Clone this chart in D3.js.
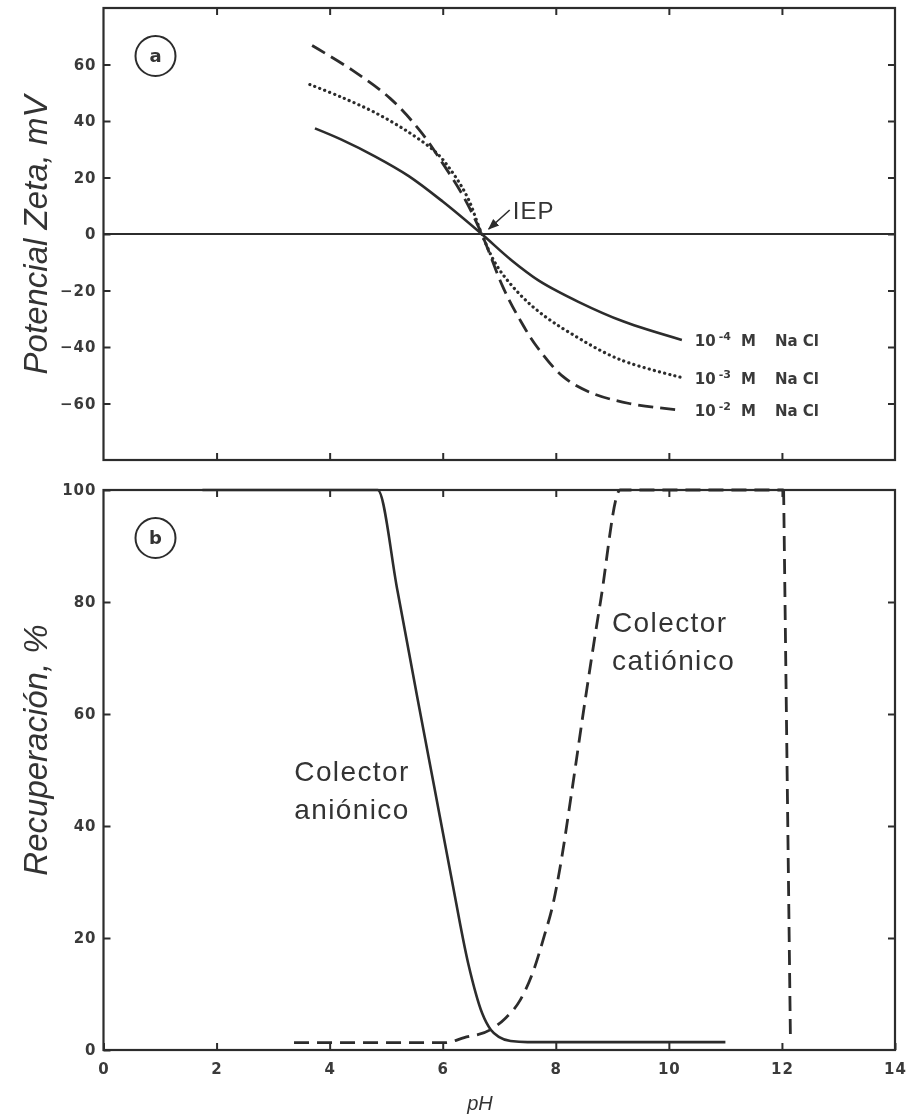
<!DOCTYPE html>
<html>
<head>
<meta charset="utf-8">
<script src="https://cdn.jsdelivr.net/npm/d3@7"></script>
<style>
  html, body { margin: 0; padding: 0; background: #fff; }
  svg { display: block; font-family: "Liberation Sans", Arial, Helvetica, sans-serif; }
</style>
</head>
<body>
<svg id="chart" width="908" height="1116"></svg>
<script>
// pH values shared by both panels' x axis
const xTicks = [0, 2, 4, 6, 8, 10, 12, 14];
const zetaTicks = [-60, -40, -20, 0, 20, 40, 60];
const recTicks = [0, 20, 40, 60, 80, 100];

// Panel (a): zeta potential (mV) vs pH at three NaCl concentrations
const zeta1e4 = [[3.74, 37.4], [4.2, 33.5], [4.8, 27.5], [5.4, 20.5], [6.0, 11.5], [6.69, 0],
                 [7.2, -9], [7.7, -16.5], [8.4, -24], [9.2, -31], [10.23, -37.5]];
const zeta1e3 = [[3.65, 52.9], [4.2, 48.5], [4.8, 43], [5.4, 36], [5.9, 28.5], [6.2, 21],
                 [6.45, 12.5], [6.69, 0], [6.95, -11], [7.3, -20], [7.7, -27.5], [8.25, -35],
                 [9.14, -44.5], [10.23, -50.8]];
const zeta1e2 = [[3.69, 66.7], [4.4, 58], [5.07, 48], [5.6, 36.5], [6.0, 25], [6.36, 13.5],
                 [6.69, 0], [7.07, -19], [7.37, -30.5], [7.67, -40], [8.13, -50.5], [8.6, -56],
                 [9.3, -60], [10.23, -62.4]];
const exponents = ["-4", "-3", "-2"];
const iep = [6.69, 0];

// Panel (b): flotation recovery (%) vs pH
const anionic = [[1.75, 100], [4.85, 100], [5.2, 82], [5.55, 63], [5.85, 47], [6.15, 31],
                 [6.45, 15.5], [6.7, 6.5], [6.85, 3.6], [7.0, 2.3], [7.2, 1.6], [7.5, 1.4], [11.0, 1.4]];
const cationic = [[3.37, 1.3], [6.03, 1.3], [6.38, 2.2], [6.84, 3.6], [7.1, 5.6], [7.37, 8.9],
                  [7.6, 14], [7.8, 20.5], [7.95, 26], [8.1, 34], [8.26, 44.6], [8.52, 62.5],
                  [8.79, 80], [9.14, 100], [12.03, 100]];
const cationicDrop = [[12.03, 100], [12.15, 2.3]];

const ink = "#2c2c2c";
const svg = d3.select("#chart");
const root = svg.append("g").style("filter", "blur(0.35px)");

const x = d3.scaleLinear().domain([0, 14]).range([103.5, 895]);
const ya = d3.scaleLinear().domain([-80, 80]).range([460, 8]);
const yb = d3.scaleLinear().domain([0, 100]).range([1050, 490]);

function frame(y) {
  const [y0, y1] = y.range();
  root.append("rect")
    .attr("x", x.range()[0]).attr("y", y1)
    .attr("width", x.range()[1] - x.range()[0]).attr("height", y0 - y1)
    .attr("fill", "none").attr("stroke", ink).attr("stroke-width", 2.2);
}

function styleAxis(g, labels) {
  g.select(".domain").remove();
  g.selectAll(".tick line").attr("stroke", ink).attr("stroke-width", 2);
  g.selectAll(".tick text")
    .attr("fill", "#3a3a3a").style("font-size", "15px").style("font-weight", "bold")
    .style("letter-spacing", "1px")
    .style("font-family", "'DejaVu Sans', Verdana, sans-serif");
  if (!labels) g.selectAll(".tick text").remove();
}

function axes(y, yTicks, xLabels) {
  const [y0, y1] = y.range();
  root.append("g").attr("transform", `translate(${x.range()[0]},0)`)
    .call(d3.axisLeft(y).tickValues(yTicks).tickSize(-7).tickPadding(7).tickFormat(d3.format("d")))
    .call(g => styleAxis(g, true));
  root.append("g").attr("transform", `translate(${x.range()[1]},0)`)
    .call(d3.axisRight(y).tickValues(yTicks.filter(v => v > y.domain()[0] && v < y.domain()[1])).tickSize(-7))
    .call(g => styleAxis(g, false));
  const inside = xTicks.filter(v => v > 0 && v < 14);
  root.append("g").attr("transform", `translate(0,${y1})`)
    .call(d3.axisTop(x).tickValues(inside).tickSize(-7))
    .call(g => styleAxis(g, false));
  root.append("g").attr("transform", `translate(0,${y0})`)
    .call(d3.axisBottom(x).tickValues(xLabels ? xTicks : inside).tickSize(-7).tickPadding(13))
    .call(g => styleAxis(g, xLabels));
}

function curve(y, data, dash, width, cap, shape) {
  root.append("path")
    .datum(data)
    .attr("d", d3.line().x(d => x(d[0])).y(d => y(d[1])).curve(shape || d3.curveCatmullRom.alpha(0.5)))
    .attr("fill", "none").attr("stroke", ink)
    .attr("stroke-width", width)
    .attr("stroke-dasharray", dash)
    .attr("stroke-linecap", cap || "butt");
}

function panelTag(y, letter) {
  const cx = x.range()[0] + 52, cy = y.range()[1] + 48;
  root.append("circle").attr("cx", cx).attr("cy", cy).attr("r", 20)
    .attr("fill", "none").attr("stroke", ink).attr("stroke-width", 2);
  root.append("text").attr("x", cx).attr("y", cy + 6).attr("text-anchor", "middle")
    .attr("fill", "#333").style("font-size", "18px").style("font-weight", "bold")
    .style("font-family", "'DejaVu Sans', sans-serif").text(letter);
}

// ---------- Panel (a) ----------
frame(ya);
axes(ya, zetaTicks, false);
root.append("line")
  .attr("x1", x(0)).attr("x2", x(14)).attr("y1", ya(0)).attr("y2", ya(0))
  .attr("stroke", ink).attr("stroke-width", 2);

curve(ya, zeta1e4, null, 2.6);
curve(ya, zeta1e3, "0.1,5.2", 3.2, "round");
curve(ya, zeta1e2, "15,7", 2.8);

// concentration labels at the right end of each curve
[zeta1e4, zeta1e3, zeta1e2].forEach((s, i) => {
  const last = s[s.length - 1];
  const t = root.append("text")
    .attr("x", x(last[0]) + 13).attr("y", ya(last[1]) + 6)
    .attr("fill", "#3a3a3a").style("font-size", "15px").style("font-weight", "bold")
    .style("font-family", "'DejaVu Sans', sans-serif");
  t.append("tspan").text("10");
  t.append("tspan").attr("dy", -6).attr("dx", 3).style("font-size", "11px").text(exponents[i]);
  t.append("tspan").attr("dy", 6).attr("dx", 10).text("M");
  t.append("tspan").attr("dx", 19).text("Na Cl");
});

// isoelectric point marker
const ix = x(iep[0]), iy = ya(iep[1]);
root.append("defs").append("marker")
  .attr("id", "arrow").attr("viewBox", "0 0 10 10").attr("refX", 9).attr("refY", 5)
  .attr("markerWidth", 7).attr("markerHeight", 7).attr("orient", "auto")
  .append("path").attr("d", "M0,1 L10,5 L0,9 Z").attr("fill", ink);
root.append("line")
  .attr("x1", ix + 28).attr("y1", iy - 24).attr("x2", ix + 7).attr("y2", iy - 5)
  .attr("stroke", ink).attr("stroke-width", 1.6).attr("marker-end", "url(#arrow)");
root.append("text").attr("x", ix + 31).attr("y", iy - 15)
  .attr("fill", "#333").style("font-size", "24px").style("letter-spacing", "1px").text("IEP");

panelTag(ya, "a");
root.append("text")
  .attr("transform", `translate(47,${(ya.range()[0] + ya.range()[1]) / 2 + 1}) rotate(-90)`)
  .attr("text-anchor", "middle").attr("fill", "#333")
  .style("font-size", "33px").style("font-style", "italic")
  .text("Potencial Zeta, mV");

// ---------- Panel (b) ----------
frame(yb);
axes(yb, recTicks, true);

curve(yb, anionic, null, 2.6, null, d3.curveMonotoneX);
curve(yb, cationic, "15,8", 2.8, null, d3.curveMonotoneX);
root.append("path").datum(cationicDrop)
  .attr("d", d3.line().x(d => x(d[0])).y(d => yb(d[1])))
  .attr("fill", "none").attr("stroke", ink).attr("stroke-width", 2.8).attr("stroke-dasharray", "15,8");

panelTag(yb, "b");

function twoLine(px, py, l1, l2, anchor) {
  const t = root.append("text").attr("x", px).attr("y", py)
    .attr("text-anchor", anchor).attr("fill", "#333")
    .style("font-size", "28px").style("letter-spacing", "1.4px");
  t.append("tspan").attr("x", px).text(l1);
  t.append("tspan").attr("x", px).attr("dy", 38).text(l2);
}
twoLine(352, 781, "Colector", "aniónico", "middle");
twoLine(612, 632, "Colector", "catiónico", "start");

root.append("text")
  .attr("transform", `translate(47,${(yb.range()[0] + yb.range()[1]) / 2 - 20}) rotate(-90)`)
  .attr("text-anchor", "middle").attr("fill", "#333")
  .style("font-size", "33px").style("font-style", "italic")
  .text("Recuperación, %");

root.append("text").attr("x", 480).attr("y", 1110).attr("text-anchor", "middle")
  .attr("fill", "#333").style("font-size", "20px").style("font-style", "italic").text("pH");
</script>
</body>
</html>
